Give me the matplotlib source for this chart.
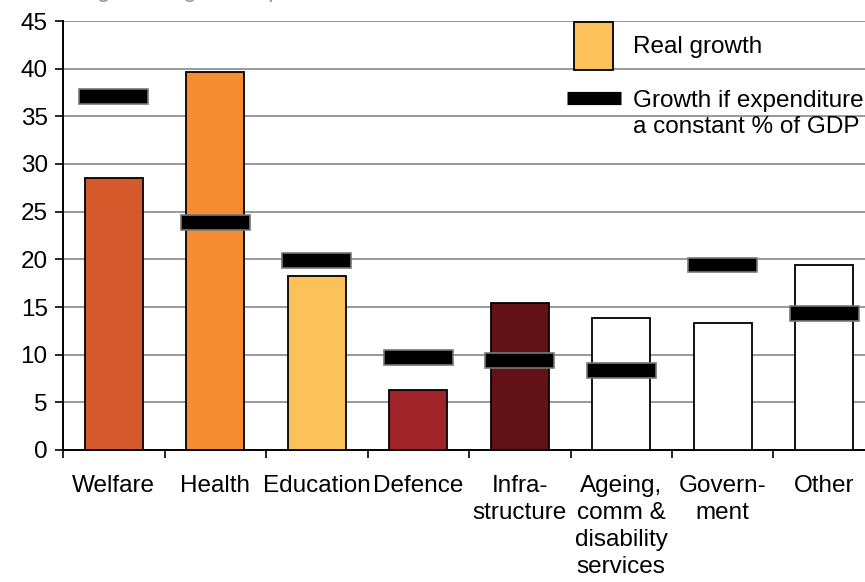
import matplotlib
matplotlib.use('Agg')
import matplotlib.pyplot as plt
from matplotlib.patches import Rectangle
from matplotlib.lines import Line2D

plt.rcParams['font.family'] = ['Liberation Sans', 'DejaVu Sans']

# categorias e valores
categorias = ['Welfare', 'Health', 'Education', 'Defence', 'Infra-\nstructure',
              'Ageing,\ncomm &\ndisability\nservices', 'Govern-\nment', 'Other']
real_growth = [28.5, 39.7, 18.2, 6.3, 15.4, 13.8, 13.3, 19.4]
gdp_growth = [37.1, 23.9, 19.9, 9.7, 9.4, 8.3, 19.4, 14.3]
cores = ['#D55A2B', '#F68D33', '#FDC15A', '#A0232A', '#631318',
         'white', 'white', 'white']
yticks = [0, 5, 10, 15, 20, 25, 30, 35, 40, 45]

W, H = 865, 582
FS = 17.5
fig = plt.figure(figsize=(W / 100, H / 100), dpi=100)
ax = fig.add_axes([63 / W, 132 / H, 812 / W, 429 / H])

x = list(range(len(categorias)))
ax.bar(x, real_growth, width=0.57, color=cores, edgecolor='black', linewidth=1.3, zorder=3)

# marcadores pretos (crescimento se % do PIB constante)
bar_h = 1.55
ax.bar(x, [bar_h] * len(x), bottom=[v - bar_h / 2 for v in gdp_growth], width=0.68,
       color='black', edgecolor='#777777', linewidth=1.2, zorder=4)

ax.set_xlim(-0.5, 7.5)
ax.set_ylim(0, 45)
ax.set_yticks(yticks)
ax.yaxis.grid(True, color='#999999', linewidth=1.4, zorder=0)
ax.set_axisbelow(True)

ax.set_xticks([i - 0.5 for i in range(len(categorias) + 1)])
ax.set_xticklabels([])
ax.set_xticks(x, minor=True)
ax.set_xticklabels(categorias, minor=True, fontsize=FS, linespacing=1.3)
ax.tick_params(axis='x', which='minor', length=0, pad=18)
ax.tick_params(axis='x', which='major', length=6, width=1.2, direction='out')
ax.tick_params(axis='y', length=6, width=1.2, direction='out', labelsize=FS, pad=5)

for s in ['top', 'right']:
    ax.spines[s].set_visible(False)
for s in ['left', 'bottom']:
    ax.spines[s].set_linewidth(1.4)

# legenda manual
fig.add_artist(Rectangle((574 / W, 1 - 70 / H), 39 / W, 48 / H, transform=fig.transFigure,
                         facecolor='#FDC15A', edgecolor='black', linewidth=1.3))
fig.add_artist(Line2D([567 / W, 621 / W], [1 - 98 / H, 1 - 98 / H], transform=fig.transFigure,
                      color='black', linewidth=9.5, solid_capstyle='butt'))
fig.text(633 / W, 1 - 47 / H, 'Real growth', fontsize=FS, va='center')
fig.text(633 / W, 1 - 114 / H, 'Growth if expenditure\na constant % of GDP', fontsize=FS,
         va='center', linespacing=1.25)

# titulo cortado no topo
fig.text(0.0, 1 + 9 / H, 'Percentage change in expenditure, real, %', fontsize=FS,
         color='#999999', va='center')

fig.savefig('out.png', dpi=100)
